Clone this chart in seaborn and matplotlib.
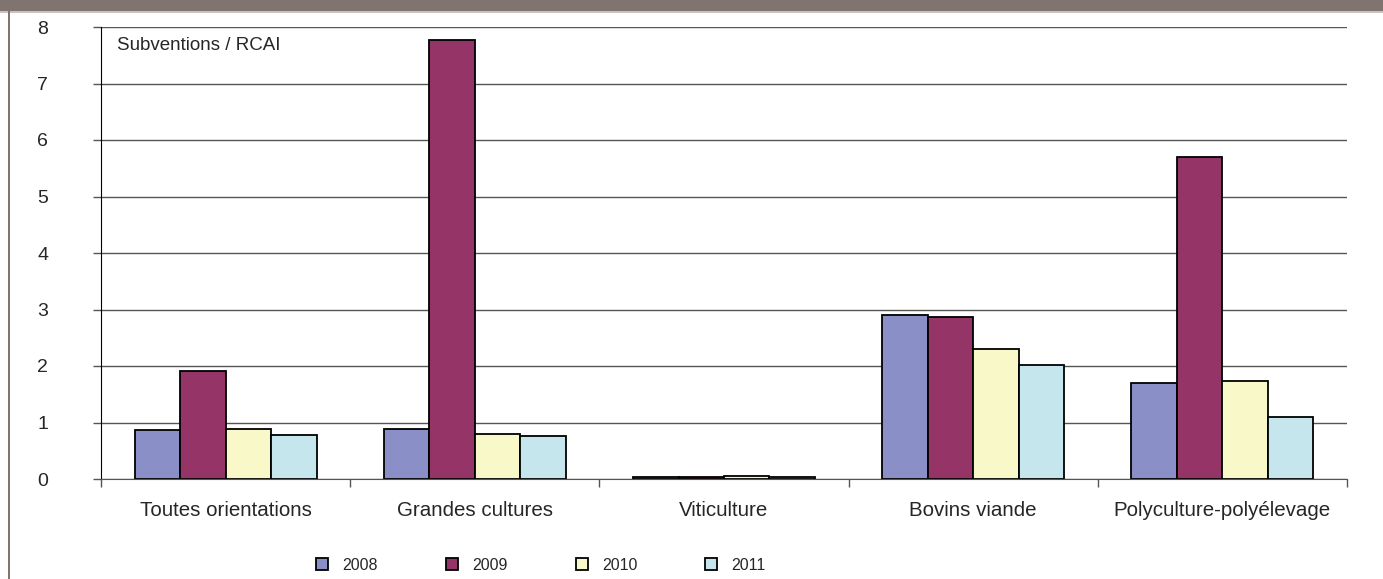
import numpy as np
import pandas as pd
import matplotlib
matplotlib.use("Agg")
import matplotlib.pyplot as plt
from matplotlib.patches import Rectangle
import seaborn as sns

# données
categories = ["Toutes orientations", "Grandes cultures", "Viticulture", "Bovins viande", "Polyculture-polyélevage"]
annees = ["2008", "2009", "2010", "2011"]
v2008 = [0.87, 0.89, 0.03, 2.90, 1.70]
v2009 = [1.91, 7.77, 0.03, 2.87, 5.70]
v2010 = [0.89, 0.80, 0.06, 2.30, 1.73]
v2011 = [0.78, 0.76, 0.03, 2.02, 1.10]
couleurs = ["#8A8FC7", "#953567", "#F8F8C8", "#C4E6EC"]

df = pd.DataFrame({
    "Orientation": categories * 4,
    "Annee": np.repeat(annees, len(categories)),
    "Valeur": v2008 + v2009 + v2010 + v2011,
})

sns.set_style("white")
plt.rcParams["font.family"] = ["Liberation Sans", "DejaVu Sans"]

fig = plt.figure(figsize=(13.83, 5.79), dpi=100)
ax = fig.add_axes([101 / 1383, 100 / 579, 1246 / 1383, 452 / 579])

sns.barplot(data=df, x="Orientation", y="Valeur", hue="Annee", order=categories,
            hue_order=annees, palette=couleurs, saturation=1, width=0.73,
            edgecolor="black", linewidth=1.3, ax=ax, legend=True)

ax.set_ylim(0, 8)
ax.set_xlim(-0.5, len(categories) - 0.5)
ax.set_yticks(range(0, 9))
ax.yaxis.grid(True, color="#555555", linewidth=1)
ax.set_axisbelow(True)
ax.tick_params(axis="y", length=6, width=1, color="#555555", pad=32, labelsize=14, left=True)
ax.set_xticks(range(len(categories)))
ax.set_xticks(np.arange(-0.5, len(categories)), minor=True)
ax.tick_params(axis="x", which="major", length=0, pad=16, labelsize=14.8)
ax.tick_params(axis="x", which="minor", length=6, width=1, color="#555555", bottom=True)
ax.set_xlabel("")
ax.set_ylabel("")
for s in ["top", "right"]:
    ax.spines[s].set_visible(False)
ax.spines["left"].set_color("black")
ax.spines["bottom"].set_color("#555555")

ax.text(117 / 1383, 1 - 46 / 579, "Subventions / RCAI", transform=fig.transFigure,
        fontsize=13.5, va="center", ha="left")

leg = ax.legend(loc="center", bbox_to_anchor=(541 / 1383, 1 - 565 / 579),
                bbox_transform=fig.transFigure, ncol=4, frameon=False, fontsize=11.5,
                handlelength=0.75, handleheight=0.8, columnspacing=4.25, handletextpad=0.9)

# cadre gris de la diapositive
fig.add_artist(Rectangle((0, 1 - 11 / 579), 1, 11 / 579, transform=fig.transFigure,
                         color="#7F746F", lw=0))
fig.add_artist(Rectangle((0, 1 - 13 / 579), 1, 2 / 579, transform=fig.transFigure,
                         color="#C9C3BF", lw=0))
fig.add_artist(Rectangle((8 / 1383, 0), 2 / 1383, 1, transform=fig.transFigure,
                         color="#7F746F", lw=0))

fig.savefig("out.png", dpi=100)
